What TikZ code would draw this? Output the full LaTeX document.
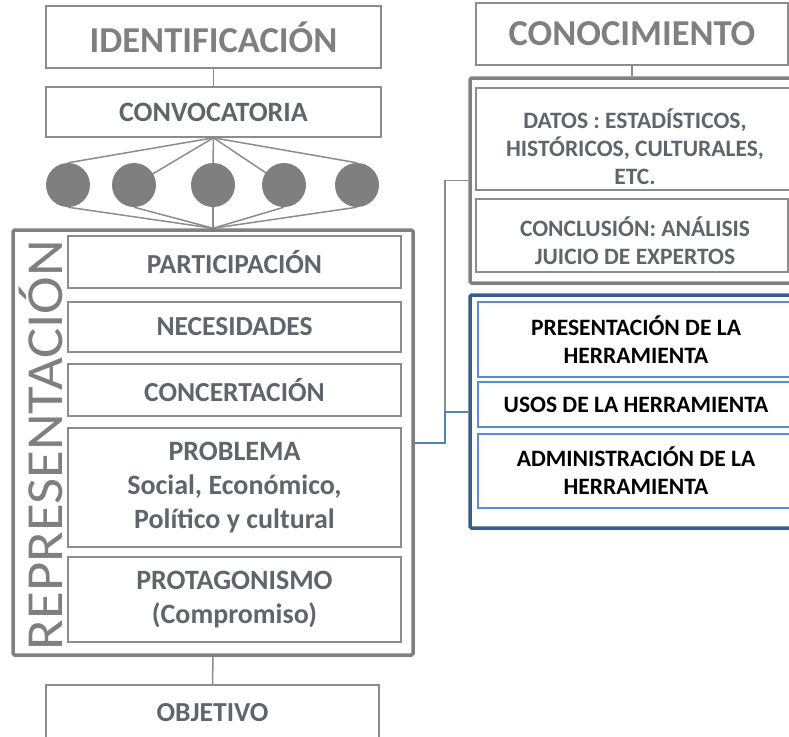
\documentclass[tikz,border=0pt]{standalone}
\usepackage{fontspec}
\setmainfont{Carlito}
\usetikzlibrary{backgrounds}
\definecolor{boxgray}{HTML}{8C8C8C}
\definecolor{txtgray}{HTML}{7F7F7F}
\definecolor{dkgray}{HTML}{60656C}
\definecolor{grpblue}{HTML}{385D8A}
\definecolor{lineblue}{HTML}{4F81BD}
\definecolor{boxblue}{HTML}{558ED5}
\newcommand{\fs}[1]{\fontsize{#1}{1.2\dimexpr#1pt\relax}\selectfont}

\begin{document}
\begin{tikzpicture}[x=1pt, y=-1pt,
    box/.style={draw=boxgray, line width=1.6pt, inner sep=0pt, align=center,
        text=dkgray, font=\bfseries\fs{27.5}},
    title/.style={box, text=txtgray, font=\bfseries\fs{36.5}},
    bbox/.style={box, draw=boxblue, text=black, font=\bfseries\fs{23.5}},
    boxtext/.style={align=center, text=dkgray, font=\bfseries\fs{23.5}},
    group/.style={draw=#1, line width=3.5pt, rounded corners=1.5pt, inner sep=0pt},
    dot/.style={circle, fill=txtgray, minimum size=44pt, inner sep=0pt},
    link/.style={draw=boxgray, line width=1.5pt}]
    \useasboundingbox (0,0) rectangle (789,736);
    \clip (0,0) rectangle (789,736);
    \node[title, minimum width=335pt, minimum height=62pt] (ident) at (213.5,37) {IDENTIFICACIÓN};
    \node[box, minimum width=335pt, minimum height=50pt, font=\bfseries\fs{28}] (convo) at (213.5,112) {CONVOCATORIA};
    \foreach \i/\x in {1/68,2/134,3/213,4/284,5/357}
        \node[dot] (c\i) at (\x,185) {};
    \node[group=txtgray, minimum width=400pt, minimum height=425pt] (repr) at (213,442.5) {};
    \node[rotate=90, anchor=base, inner sep=0pt, text=txtgray, font=\fs{52}] (rlabel) at (62,445)
        {\scalebox{1.09}[1]{REPRESENTACIÓN}};
    \node[box, minimum width=333pt, minimum height=52pt] (part) at (234.5,262) {PARTICIPACIÓN};
    \node[box, minimum width=333pt, minimum height=50pt] (nec) at (234.5,327) {NECESIDADES};
    \node[box, minimum width=333pt, minimum height=52pt] (conc) at (234.5,390) {CONCERTACIÓN};
    \node[box, minimum width=333pt, minimum height=119pt, font=\bfseries\fs{28}] (prob) at (234.5,487.5)
        {PROBLEMA\\Social, Económico,\\Político y cultural};
    \node[box, minimum width=333pt, minimum height=85pt, font=\bfseries\fs{28}] (prot) at (234.5,599.5)
        {PROTAGONISMO\\(Compromiso)};
    \node[box, minimum width=333pt, minimum height=55pt] (obj) at (212.5,712.5) {OBJETIVO};

    \node[title, minimum width=312pt, minimum height=62pt] (conoc) at (632,34) {CONOCIMIENTO};
    \node[group=txtgray, minimum width=340pt, minimum height=205pt] (grp) at (640,180.5) {};
    \node[box, minimum width=318pt, minimum height=102pt] (datos) at (635,139) {};
    \node[boxtext] (datostxt) at ([yshift=-8pt]datos.center)
        {DATOS : ESTADÍSTICOS,\\HISTÓRICOS, CULTURALES,\\ETC.};
    \node[box, minimum width=312pt, minimum height=73pt] (concl) at (632,235.5) {};
    \node[boxtext] (concltxt) at ([xshift=3pt,yshift=-5pt]concl.center)
        {CONCLUSIÓN: ANÁLISIS\\JUICIO DE EXPERTOS};
    \node[group=grpblue, minimum width=340pt, minimum height=233pt] (tool) at (640,411.5) {};
    \node[bbox, minimum width=316pt, minimum height=75pt] (pres) at (636,339.5)
        {PRESENTACIÓN DE LA\\HERRAMIENTA};
    \node[bbox, minimum width=316pt, minimum height=45pt] (usos) at (636,404.5)
        {USOS DE LA HERRAMIENTA};
    \node[bbox, minimum width=316pt, minimum height=74pt] (admin) at (636,471)
        {ADMINISTRACIÓN DE LA\\HERRAMIENTA};

    \begin{scope}[on background layer]
        \foreach \i/\a in {1/north,2/center,3/north,4/center,5/north} {
            \draw[link] (convo.south) -- (c\i.\a);
            \draw[link] (c\i.south) -- (repr.north);
        }
    \end{scope}
    \draw[link] (ident.south) -- (convo.north);
    \draw[link] (repr.south) -- (obj.north);
    \draw[link] (conoc.south) -- (conoc.south |- grp.north);
    \draw[link] (repr.east) -- ++(30,0) |- (grp.west);
    \draw[link, draw=lineblue, line width=2pt] (repr.east) -- ++(30,0) |- (tool.west);
\end{tikzpicture}
\end{document}
